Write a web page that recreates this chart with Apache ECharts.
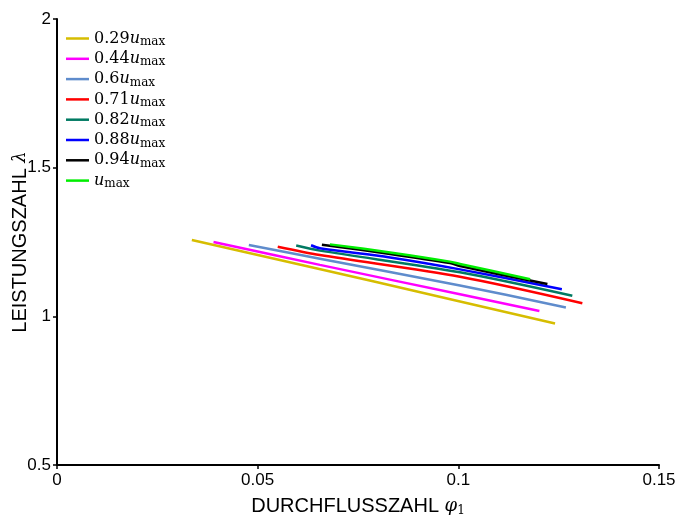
<!DOCTYPE html>
<html><head><meta charset="utf-8">
<script src="https://cdn.jsdelivr.net/npm/echarts@6/dist/echarts.min.js"></script>
<style>html,body{margin:0;padding:0;background:#fff}#c{width:681px;height:517px}</style>
</head><body><div id="c"></div>
<script>
const seriesNames = ['0.29', '0.44', '0.6', '0.71', '0.82', '0.88', '0.94', ''];
const seriesColors = ['#d6bd00', '#ff00ff', '#5f8ccc', '#ff0000', '#007a62', '#0000ff', '#000000', '#00ee00'];
const s029 = [[0.0336, 1.257], [0.0790, 1.117], [0.1241, 0.976]];
const s044 = [[0.0390, 1.250], [0.0655, 1.173], [0.1004, 1.074], [0.1202, 1.018]];
const s060 = [[0.0478, 1.240], [0.0655, 1.194], [0.1004, 1.104], [0.1268, 1.030]];
const s071 = [[0.0550, 1.234], [0.0655, 1.206], [0.1004, 1.133], [0.1309, 1.044]];
const s082 = [[0.0596, 1.238], [0.0655, 1.221], [0.1004, 1.148], [0.1284, 1.069]];
const s088 = [[0.0633, 1.239], [0.0655, 1.229], [0.0830, 1.198], [0.1004, 1.158], [0.1258, 1.091]];
const s094 = [[0.0660, 1.241], [0.0830, 1.210], [0.0979, 1.179], [0.1004, 1.169], [0.1222, 1.109]];
const s100 = [[0.0680, 1.242], [0.0830, 1.215], [0.0979, 1.184], [0.1004, 1.176], [0.1179, 1.125]];
const allData = [s029, s044, s060, s071, s082, s088, s094, s100];
const xTicks = [0, 0.05, 0.1, 0.15];
const yTicks = [0.5, 1, 1.5, 2];

const chart = echarts.init(document.getElementById('c'));
const series = seriesNames.map((n, i) => ({
  name: n === '' ? 'umax' : n + 'umax',
  type: 'line',
  data: allData[i],
  smooth: 0.3,
  showSymbol: false,
  symbol: 'none',
  lineStyle: { width: 2.5, color: seriesColors[i] },
  itemStyle: { color: seriesColors[i] },
  z: 2 + i
}));
chart.setOption({
  animation: false,
  backgroundColor: '#fff',
  grid: { left: 57, right: 22, top: 19, bottom: 52, outerBoundsMode: 'none', containLabel: false },
  legend: {
    orient: 'vertical', left: 61, top: 24, itemGap: 1.3,
    icon: 'rect', itemWidth: 23, itemHeight: 2.5,
    data: series.map(s => s.name),
    formatter: function (name) {
      const num = name.replace('umax', '');
      return (num ? '{n|' + num + '}' : '') + '{u|u}{s|max}';
    },
    textStyle: {
      rich: {
        n: { fontFamily: 'DejaVu Serif', fontSize: 16, color: '#000', lineHeight: 18 },
        u: { fontFamily: 'DejaVu Serif', fontStyle: 'italic', fontSize: 16, color: '#000', lineHeight: 18 },
        s: { fontFamily: 'DejaVu Serif', fontSize: 12, color: '#000', lineHeight: 18, padding: [7, 0, 0, 0] }
      }
    }
  },
  xAxis: {
    type: 'value', min: 0, max: 0.15, interval: 0.05,
    name: '{a|DURCHFLUSSZAHL }{p|φ}{q|1}', nameLocation: 'middle', nameGap: 31,
    nameMoveOverlap: false,
    nameTextStyle: {
      rich: {
        a: { fontFamily: 'Liberation Sans', fontSize: 20, color: '#000' },
        p: { fontFamily: 'DejaVu Serif', fontStyle: 'italic', fontSize: 18, color: '#000' },
        q: { fontFamily: 'DejaVu Serif', fontSize: 12, color: '#000', padding: [9, 0, 0, 0] }
      }
    },
    axisLine: { show: true, lineStyle: { color: '#000', width: 2 } },
    axisTick: { show: true, inside: false, length: 4, lineStyle: { color: '#000', width: 1.5 } },
    axisLabel: { fontFamily: 'Liberation Sans', fontSize: 17, color: '#000', margin: 7,
      formatter: v => String(+v.toFixed(2)) },
    splitLine: { show: false }
  },
  yAxis: {
    type: 'value', min: 0.5, max: 2, interval: 0.5,
    name: '{a|LEISTUNGSZAHL }{p|λ}', nameLocation: 'middle', nameGap: 27, nameRotate: 90,
    nameMoveOverlap: false,
    nameTextStyle: {
      rich: {
        a: { fontFamily: 'Liberation Sans', fontSize: 20, color: '#000' },
        p: { fontFamily: 'DejaVu Serif', fontStyle: 'italic', fontSize: 18, color: '#000' }
      }
    },
    axisLine: { show: true, lineStyle: { color: '#000', width: 2 } },
    axisTick: { show: true, inside: false, length: 4, lineStyle: { color: '#000', width: 1.5 } },
    axisLabel: { fontFamily: 'Liberation Sans', fontSize: 17, color: '#000', margin: 6,
      formatter: v => String(+v.toFixed(1)) },
    splitLine: { show: false }
  },
  series: series
});
</script></body></html>
